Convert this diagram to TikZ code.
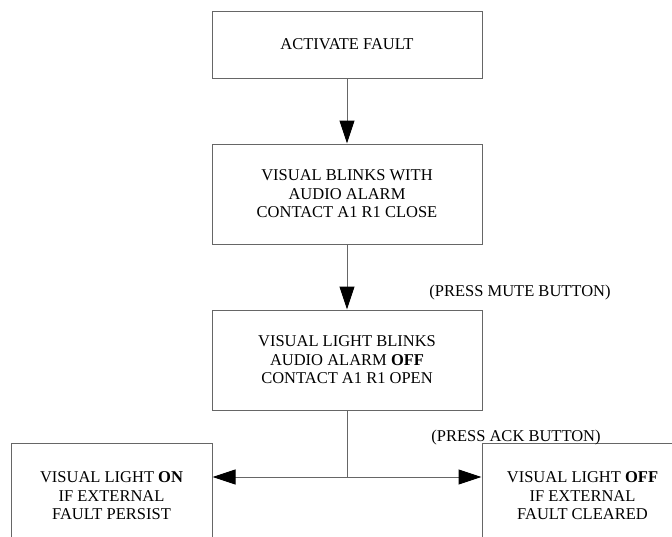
\documentclass[tikz,border=0pt]{standalone}
\usepackage{fontspec}
\setmainfont{Liberation Serif}
\usetikzlibrary{positioning, arrows.meta}

\begin{document}
\begin{tikzpicture}[x=1pt, y=1pt,
        state/.style={shape=rectangle, draw=gray!80!black, line width=1pt, align=center,
            font=\fontsize{16.5}{18.5}\selectfont, minimum width=270pt, minimum height=100pt, inner sep=0pt},
        note/.style={font=\fontsize{16.5}{18.5}\selectfont, inner sep=0pt},
        flow/.style={draw=gray!80!black, line width=1pt, -{Triangle[width=15pt, length=23pt, color=black]}}]
            \useasboundingbox (0,0) rectangle (672,-536);

            \node[state, minimum height=67pt] (fault) at (347,-44.5) {ACTIVATE FAULT};
            \node[state] (blink) at (347,-194) {VISUAL BLINKS WITH\\AUDIO ALARM\\CONTACT A1 R1 CLOSE};
            \node[state] (mute) at (347,-360) {VISUAL LIGHT BLINKS\\AUDIO ALARM \textbf{OFF}\\CONTACT A1 R1 OPEN};
            \node[state, minimum width=201pt, minimum height=106pt] (on) at (111.5,-496) {VISUAL LIGHT \textbf{ON}\\IF EXTERNAL\\FAULT PERSIST};
            \node[state, minimum width=201pt, minimum height=106pt] (off) at (582.5,-496) {VISUAL LIGHT \textbf{OFF}\\IF EXTERNAL\\FAULT CLEARED};

            \node[note] (mutelabel) at (520,-293) {(PRESS MUTE BUTTON)};
            \node[note] (acklabel) at (516,-438) {(PRESS ACK BUTTON)};
            \coordinate (split) at (347,-477);

            \path [flow] (fault) edge (blink);
            \path [flow] (blink) edge (mute);
            \draw [draw=gray!80!black, line width=1pt] (mute) -- (split);
            \draw [flow] (split) -- (split -| on.east);
            \draw [flow] (split) -- (split -| off.west);

        \end{tikzpicture}
\end{document}
